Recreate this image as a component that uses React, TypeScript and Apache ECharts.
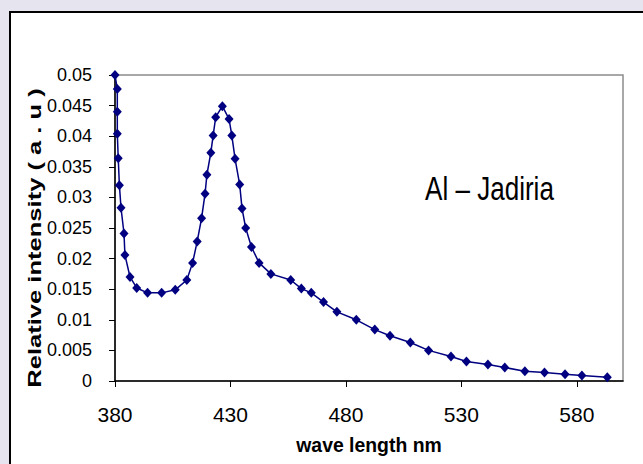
import React, { useEffect, useRef } from "react";
import * as echarts from "echarts";

const wavelength = [
  380, 381, 381, 381, 381.4, 381.9, 382.6, 383.9, 384.3, 386.5, 389.4, 394.1, 400.2,
  406.1, 411.1, 413.6, 415.6, 417.5, 419.0, 419.8, 421.5, 422.5, 423.6, 426.5, 429.4,
  430.6, 432.0, 434.0, 435.0, 436.6, 439.1, 442.4, 447.5, 456.1, 460.7, 465.0, 470.3,
  476.1, 484.5, 492.5, 499.1, 507.9, 515.8, 525.5, 532.2, 541.5, 548.8, 557.5, 566.0,
  574.9, 582.2, 593.2,
];
const intensity = [
  0.05, 0.0477, 0.044, 0.0404, 0.0364, 0.032, 0.0283, 0.0241, 0.0206, 0.017, 0.0152,
  0.0144, 0.0144, 0.0149, 0.0165, 0.0193, 0.0228, 0.0266, 0.0306, 0.0337, 0.0373,
  0.0401, 0.0431, 0.0449, 0.0428, 0.0401, 0.0363, 0.0321, 0.0282, 0.025, 0.0219,
  0.0193, 0.0175, 0.0165, 0.0151, 0.0144, 0.0129, 0.0113, 0.01, 0.0084, 0.0074,
  0.0063, 0.005, 0.004, 0.0032, 0.0027, 0.0022, 0.0016, 0.0014, 0.0011, 0.0009, 0.0006,
];
const xTicks = [380, 430, 480, 530, 580];
const xTitle = "wave length nm";
const yTitle = "Relative intensity ( a . u )";
const annotation = "Al – Jadiria";

const FONT = "'Liberation Sans Narrow', 'Arial Narrow', 'Liberation Sans', Arial, sans-serif";
const FONT_W = "'Liberation Sans', Arial, sans-serif";

export default function App() {
  const ref = useRef<HTMLDivElement>(null);
  useEffect(() => {
    if (!ref.current) return;
    const chart = echarts.init(ref.current, undefined, { renderer: "svg" });
    const data = wavelength.map((w, i) => [w, intensity[i]]);
    chart.setOption({
      animation: false,
      backgroundColor: "transparent",
      grid: {
        left: 115,
        top: 75,
        right: 20,
        bottom: 83,
        show: true,
        borderColor: "#8c8c8c",
        borderWidth: 1.5,
        backgroundColor: "#ffffff",
        containLabel: false,
        outerBoundsMode: "none",
      },
      xAxis: {
        type: "value",
        min: 380,
        max: 600,
        interval: 50,
        axisLine: { show: true, onZero: false, lineStyle: { color: "#000", width: 1.5 } },
        axisTick: { show: true, inside: false, length: 6, customValues: xTicks, lineStyle: { color: "#000", width: 1 } },
        axisLabel: {
          customValues: xTicks,
          margin: 23,
          color: "#000",
          fontFamily: FONT,
          fontSize: 21,
        },
        splitLine: { show: false },
      },
      yAxis: {
        type: "value",
        min: 0,
        max: 0.05,
        interval: 0.005,
        axisLine: { show: true, onZero: false, lineStyle: { color: "#000", width: 1.5 } },
        axisTick: { show: true, inside: false, length: 6, lineStyle: { color: "#000", width: 1 } },
        axisLabel: {
          margin: 23,
          color: "#000",
          fontFamily: FONT,
          fontSize: 18,
          formatter: (v: number) => String(+v.toFixed(3)),
        },
        splitLine: { show: false },
      },
      series: [
        {
          type: "line",
          data,
          symbol: "diamond",
          symbolSize: [9, 10],
          itemStyle: { color: "#000080" },
          lineStyle: { color: "#000080", width: 1.5 },
          clip: false,
        },
      ],
      graphic: [
        {
          type: "text",
          x: 35,
          y: 238,
          rotation: Math.PI / 2,
          scaleX: 1.42,
          style: {
            text: yTitle,
            fontFamily: FONT_W,
            fontWeight: "bold",
            fontSize: 18,
            fill: "#000",
            align: "center",
            verticalAlign: "middle",
          },
        },
        {
          type: "text",
          x: 369,
          y: 445,
          scaleX: 0.97,
          style: {
            text: xTitle,
            fontFamily: FONT_W,
            fontWeight: "bold",
            fontSize: 20,
            fill: "#000",
            align: "center",
            verticalAlign: "middle",
          },
        },
        {
          type: "text",
          x: 425,
          y: 188.5,
          scaleX: 0.79,
          style: {
            text: annotation,
            fontFamily: FONT_W,
            fontSize: 33,
            fill: "#000",
            align: "left",
            verticalAlign: "middle",
          },
        },
      ],
    });
    return () => chart.dispose();
  }, []);

  return (
    <div
      style={{
        position: "fixed",
        left: 0,
        top: 0,
        width: 643,
        height: 464,
        background: "#e6e4ef",
        overflow: "hidden",
      }}
    >
      <div
        style={{
          position: "absolute",
          left: 9,
          top: 11,
          width: 660,
          height: 480,
          border: "2px solid #000",
          background: "#fff",
        }}
      />
      <div ref={ref} style={{ position: "absolute", left: 0, top: 0, width: 643, height: 464 }} />
    </div>
  );
}
